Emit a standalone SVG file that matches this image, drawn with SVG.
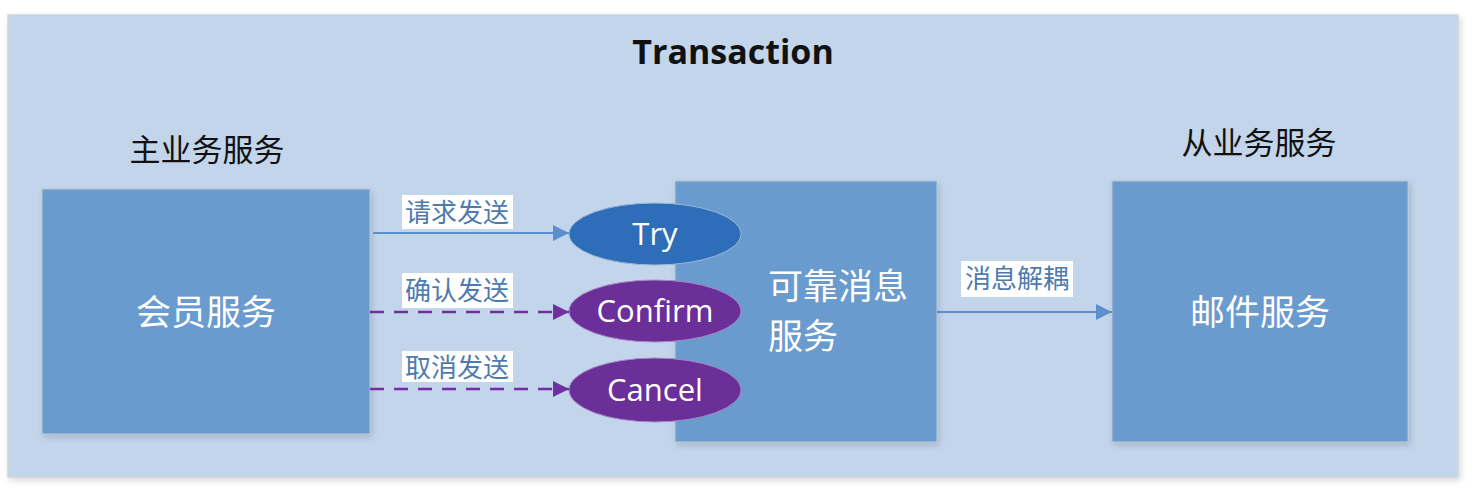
<svg xmlns="http://www.w3.org/2000/svg" width="1476" height="490" viewBox="0 0 1476 490">
<style>
.cn{font-family:"Noto Sans CJK SC","Microsoft YaHei",sans-serif}
.box{fill:#6A9BCF;stroke:#B7C7DA;stroke-width:1}
.lbl{font-size:26px;fill:#4E7BAE}
.lblbg{fill:#FFFFFF}
.white{fill:#FFFFFF}
.hdr{font-size:31px;fill:#111111}
.big{font-size:35px}
.ell-text{font-family:"Open Sans","Noto Sans",sans-serif;font-size:31px;fill:#FFFFFF;text-anchor:middle}
</style>
<defs>
<filter id="sh" x="-10%" y="-10%" width="130%" height="130%">
<feDropShadow dx="2" dy="3" stdDeviation="3" flood-color="#000" flood-opacity="0.15"/>
</filter>
<marker id="arrB" viewBox="0 0 10 10" refX="10" refY="5" markerWidth="16" markerHeight="16" orient="auto" markerUnits="userSpaceOnUse">
<path d="M0,0 L10,5 L0,10 z" fill="#5B8FCB"/>
</marker>
<marker id="arrP" viewBox="0 0 10 10" refX="10" refY="5" markerWidth="16" markerHeight="16" orient="auto" markerUnits="userSpaceOnUse">
<path d="M0,0 L10,5 L0,10 z" fill="#7030A0"/>
</marker>
</defs>
<rect width="1476" height="490" fill="#FFFFFF"/>
<rect id="transaction" x="8" y="15" width="1450" height="462" fill="#C3D5EB" stroke="#D0D4D9" stroke-width="1.5" filter="url(#sh)"/>
<text x="733" y="64" text-anchor="middle" font-family="'Open Sans','Noto Sans',sans-serif" font-weight="bold" font-size="34" fill="#111">Transaction</text>
<text class="cn hdr" x="207" y="161" text-anchor="middle">主业务服务</text>
<text class="cn hdr" x="1259" y="154" text-anchor="middle">从业务服务</text>

<g id="member">
<rect class="box" x="42" y="189" width="328" height="245" filter="url(#sh)"/>
<text class="cn white big" x="206" y="325" text-anchor="middle">会员服务</text>
</g>
<g id="reliable">
<rect class="box" x="675" y="181" width="262" height="261" filter="url(#sh)"/>
<text class="cn white big" x="768" y="299">可靠消息</text>
<text class="cn white big" x="768" y="349">服务</text>
</g>
<g id="mail">
<rect class="box" x="1112" y="181" width="296" height="261" filter="url(#sh)"/>
<text class="cn white big" x="1260" y="325" text-anchor="middle">邮件服务</text>
</g>
<g id="try">
<ellipse cx="655" cy="234" rx="86" ry="31" fill="#2E6DB8" stroke="#9DB8DA" stroke-width="1"/>
<text class="ell-text" x="655" y="245">Try</text>
</g>
<g id="confirm">
<ellipse cx="655" cy="311" rx="86" ry="31" fill="#6A2F98" stroke="#A88BC4" stroke-width="1"/>
<text class="ell-text" x="655" y="322">Confirm</text>
</g>
<g id="cancel">
<ellipse cx="655" cy="390" rx="86" ry="32" fill="#6A2F98" stroke="#A88BC4" stroke-width="1"/>
<text class="ell-text" x="655" y="401">Cancel</text>
</g>

<g id="connectors">
<line x1="373" y1="233" x2="569" y2="233" stroke="#5B8FCB" stroke-width="2" marker-end="url(#arrB)"/>
<line x1="370" y1="312" x2="569" y2="312" stroke="#7030A0" stroke-width="2.5" stroke-dasharray="14,10" marker-end="url(#arrP)"/>
<line x1="370" y1="389" x2="569" y2="389" stroke="#7030A0" stroke-width="2.5" stroke-dasharray="14,10" marker-end="url(#arrP)"/>
<line x1="937" y1="312" x2="1112" y2="312" stroke="#5B8FCB" stroke-width="2" marker-end="url(#arrB)"/>
<rect class="lblbg" x="402" y="195" width="111" height="34"/>
<text class="cn lbl" x="457" y="222" text-anchor="middle">请求发送</text>
<rect class="lblbg" x="402" y="273" width="111" height="35"/>
<text class="cn lbl" x="457" y="300" text-anchor="middle">确认发送</text>
<rect class="lblbg" x="402" y="351" width="111" height="31"/>
<text class="cn lbl" x="457" y="377" text-anchor="middle">取消发送</text>
<rect class="lblbg" x="961" y="261" width="112" height="36"/>
<text class="cn lbl" x="1017" y="288" text-anchor="middle">消息解耦</text>
</g>
</svg>
